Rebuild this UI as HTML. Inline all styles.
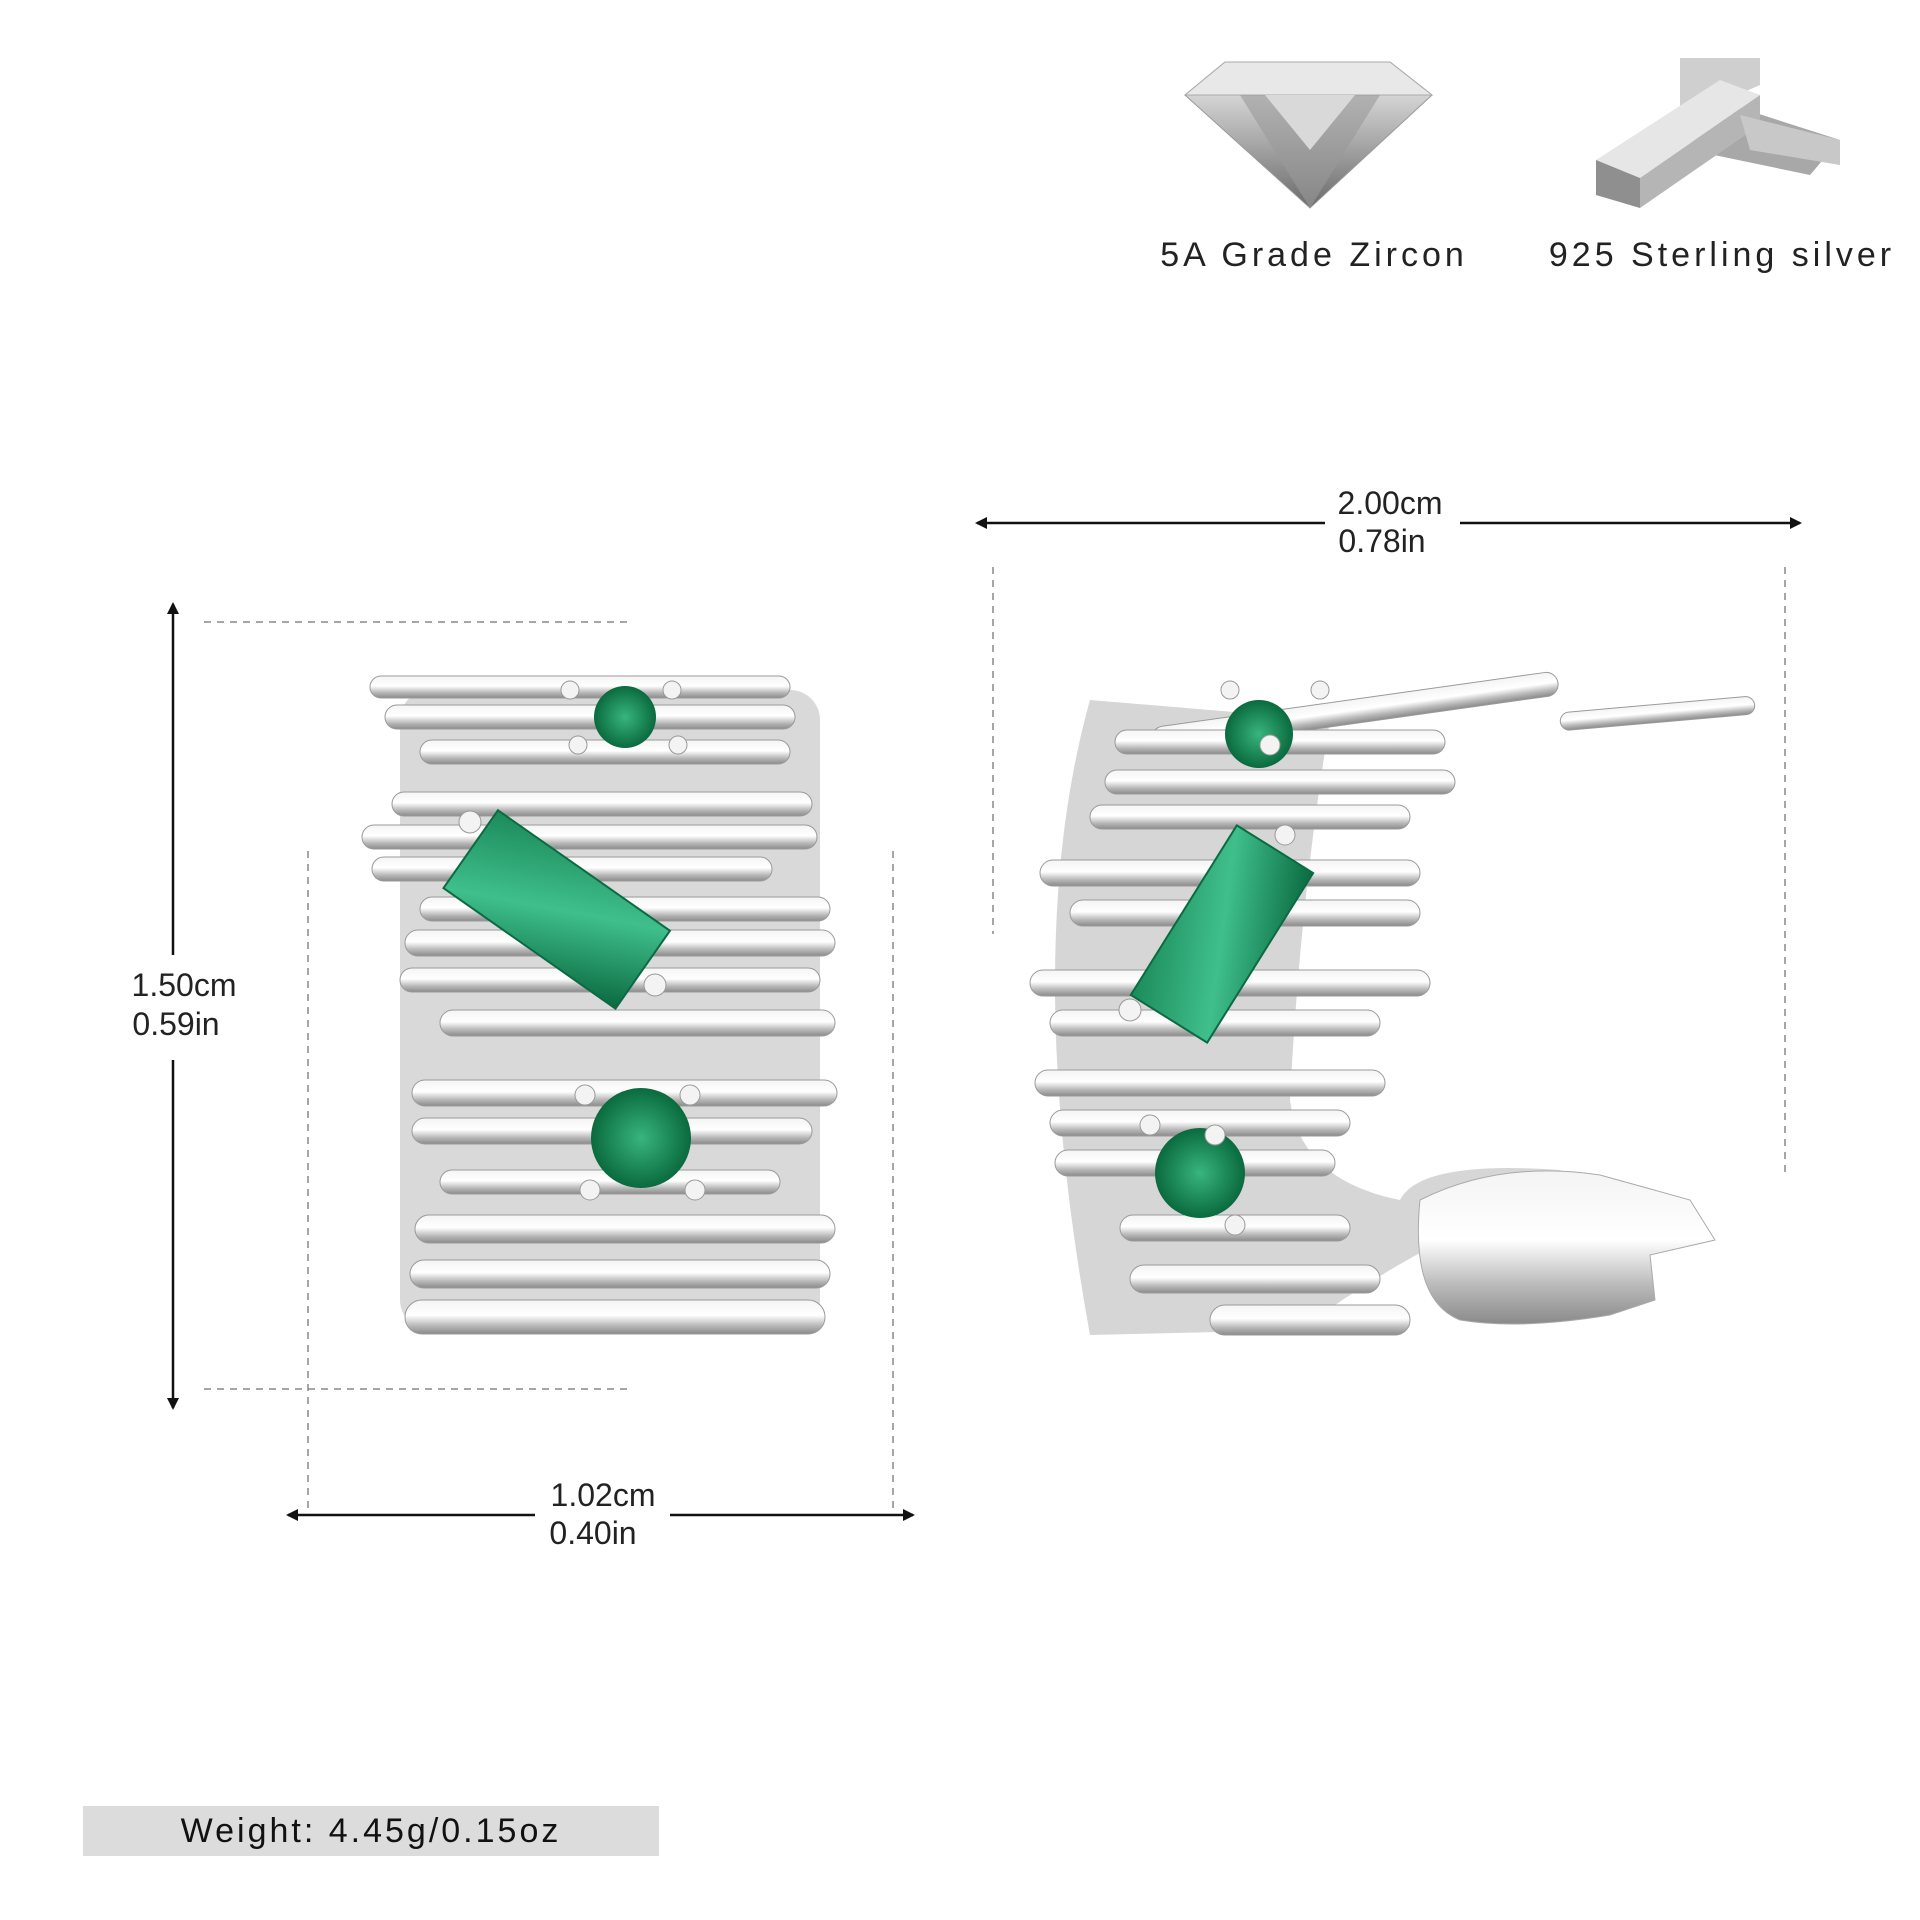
<!DOCTYPE html>
<html><head><meta charset="utf-8"><style>
html,body{margin:0;padding:0;background:#fff;}
body{width:1920px;height:1920px;position:relative;overflow:hidden;font-family:"Liberation Sans",sans-serif;}
</style></head><body>
<svg width="1920" height="1920" viewBox="0 0 1920 1920" xmlns="http://www.w3.org/2000/svg" style="position:absolute;left:0;top:0">
<defs>
<linearGradient id="bar" x1="0" y1="0" x2="0" y2="1">
<stop offset="0" stop-color="#f4f4f4"/><stop offset="0.45" stop-color="#ffffff"/><stop offset="0.75" stop-color="#b9b9b9"/><stop offset="1" stop-color="#8a8a8a"/></linearGradient>
<linearGradient id="gem" x1="0" y1="0" x2="1" y2="1">
<stop offset="0" stop-color="#1c8a5a"/><stop offset="0.5" stop-color="#3fbf8c"/><stop offset="1" stop-color="#0b6a40"/></linearGradient>
<radialGradient id="rg"><stop offset="0" stop-color="#38b57f"/><stop offset="1" stop-color="#0a6a3e"/></radialGradient>
<linearGradient id="dia" x1="0" y1="0" x2="0" y2="1"><stop offset="0" stop-color="#f4f4f4"/><stop offset="1" stop-color="#6a6a6a"/></linearGradient>
<marker id="ah" markerWidth="12" markerHeight="12" refX="10" refY="6" orient="auto-start-reverse" markerUnits="userSpaceOnUse"><path d="M0,0 L12,6 L0,12 Z" fill="#111"/></marker>
</defs>

<polygon points="1185,95 1225,62 1390,62 1432,95 1310,208" fill="url(#dia)" stroke="#999"/>
<polygon points="1185,95 1432,95 1390,62 1225,62" fill="#e8e8e8" stroke="#aaa"/>
<polygon points="1240,95 1310,208 1380,95" fill="#9a9a9a" opacity=".6"/>
<polygon points="1265,95 1310,150 1355,95" fill="#d9d9d9"/>
<polygon points="1680,58 1760,58 1760,85 1680,120" fill="#cfcfcf"/>
<polygon points="1700,95 1840,140 1810,175 1690,150" fill="#a8a8a8"/>
<polygon points="1596,160 1720,80 1760,95 1640,178" fill="#e6e6e6"/>
<polygon points="1596,160 1640,178 1640,208 1596,195" fill="#8f8f8f"/>
<polygon points="1640,178 1760,95 1760,125 1640,208" fill="#b5b5b5"/>
<polygon points="1740,115 1840,140 1840,165 1750,150" fill="#c8c8c8"/>

<text x="1314" y="266" font-size="34" text-anchor="middle" letter-spacing="4" fill="#222">5A Grade Zircon</text>
<text x="1722" y="266" font-size="34" text-anchor="middle" letter-spacing="4" fill="#222">925 Sterling silver</text>

<g stroke="#111" stroke-width="2.5" fill="none">
<line x1="977" y1="523" x2="1325" y2="523" marker-start="url(#ah)"/>
<line x1="1460" y1="523" x2="1800" y2="523" marker-end="url(#ah)"/>
<line x1="173" y1="604" x2="173" y2="955" marker-start="url(#ah)"/>
<line x1="173" y1="1060" x2="173" y2="1408" marker-end="url(#ah)"/>
<line x1="288" y1="1515" x2="535" y2="1515" marker-start="url(#ah)"/>
<line x1="670" y1="1515" x2="913" y2="1515" marker-end="url(#ah)"/>
</g>
<g stroke="#888" stroke-width="1.5" stroke-dasharray="7,6" fill="none">
<line x1="993" y1="567" x2="993" y2="934"/>
<line x1="1785" y1="567" x2="1785" y2="1175"/>
<line x1="204" y1="622" x2="628" y2="622"/>
<line x1="204" y1="1389" x2="628" y2="1389"/>
<line x1="308" y1="851" x2="308" y2="1509"/>
<line x1="893" y1="851" x2="893" y2="1509"/>
</g>
<g font-size="32" fill="#222" text-anchor="middle">
<text x="1390" y="514">2.00cm</text><text x="1382" y="552">0.78in</text>
<text x="184" y="996">1.50cm</text><text x="176" y="1035">0.59in</text>
<text x="603" y="1506">1.02cm</text><text x="593" y="1544">0.40in</text>
</g>

<rect x="400" y="690" width="420" height="640" rx="30" fill="#d9d9d9"/>
<g fill="url(#bar)" stroke="#9a9a9a" stroke-width="1">
<rect x="370" y="676" width="420" height="22" rx="11"/>
<rect x="385" y="705" width="410" height="24" rx="12"/>
<rect x="420" y="740" width="370" height="24" rx="12"/>
<rect x="392" y="792" width="420" height="24" rx="12"/>
<rect x="362" y="825" width="455" height="24" rx="12"/>
<rect x="372" y="857" width="400" height="24" rx="12"/>
<rect x="420" y="897" width="410" height="24" rx="12"/>
<rect x="405" y="930" width="430" height="26" rx="13"/>
<rect x="400" y="968" width="420" height="24" rx="12"/>
<rect x="440" y="1010" width="395" height="26" rx="13"/>
<rect x="412" y="1080" width="425" height="26" rx="13"/>
<rect x="412" y="1118" width="400" height="26" rx="13"/>
<rect x="440" y="1170" width="340" height="24" rx="12"/>
<rect x="415" y="1215" width="420" height="28" rx="14"/>
<rect x="410" y="1260" width="420" height="28" rx="14"/>
<rect x="405" y="1300" width="420" height="34" rx="17"/>
</g>
<circle cx="625" cy="717" r="31" fill="url(#rg)"/>
<rect x="452" y="862" width="210" height="95" fill="url(#gem)" stroke="#0c6a42" stroke-width="2" transform="rotate(35 557 909)"/>
<circle cx="641" cy="1138" r="50" fill="url(#rg)"/>
<g fill="#f3f3f3" stroke="#999">
<circle cx="570" cy="690" r="9"/><circle cx="672" cy="690" r="9"/><circle cx="578" cy="745" r="9"/><circle cx="678" cy="745" r="9"/>
<circle cx="470" cy="822" r="11"/><circle cx="655" cy="985" r="11"/>
<circle cx="585" cy="1095" r="10"/><circle cx="690" cy="1095" r="10"/><circle cx="590" cy="1190" r="10"/><circle cx="695" cy="1190" r="10"/>
</g>

<path d="M1090,700 Q1020,950 1090,1335 L1300,1330 Q1420,1240 1580,1180 L1560,1170 Q1420,1160 1400,1200 Q1300,1180 1290,1100 Q1300,900 1330,720 Z" fill="#d6d6d6"/>
<g fill="url(#bar)" stroke="#9a9a9a" stroke-width="1">
<rect x="1150" y="700" width="410" height="24" rx="12" transform="rotate(-8 1350 712)"/>
<rect x="1115" y="730" width="330" height="24" rx="12"/>
<rect x="1105" y="770" width="350" height="24" rx="12"/>
<rect x="1090" y="805" width="320" height="24" rx="12"/>
<rect x="1040" y="860" width="380" height="26" rx="13"/>
<rect x="1070" y="900" width="350" height="26" rx="13"/>
<rect x="1030" y="970" width="400" height="26" rx="13"/>
<rect x="1050" y="1010" width="330" height="26" rx="13"/>
<rect x="1035" y="1070" width="350" height="26" rx="13"/>
<rect x="1050" y="1110" width="300" height="26" rx="13"/>
<rect x="1055" y="1150" width="280" height="26" rx="13"/>
<rect x="1120" y="1215" width="230" height="26" rx="13"/>
<rect x="1130" y="1265" width="250" height="28" rx="14"/>
<rect x="1210" y="1305" width="200" height="30" rx="15"/>
<rect x="1560" y="705" width="195" height="18" rx="9" transform="rotate(-5 1650 714)"/>
</g>
<path d="M1420,1200 Q1500,1160 1600,1175 L1690,1200 L1715,1240 L1650,1255 L1655,1300 L1610,1315 Q1520,1330 1460,1320 Q1410,1300 1420,1200 Z" fill="url(#bar)" stroke="#aaa"/>
<circle cx="1259" cy="734" r="34" fill="url(#rg)"/>
<rect x="1122" y="889" width="200" height="90" fill="url(#gem)" stroke="#0c6a42" stroke-width="2" transform="rotate(-58 1222 934)"/>
<circle cx="1200" cy="1173" r="45" fill="url(#rg)"/>
<g fill="#f3f3f3" stroke="#999">
<circle cx="1230" cy="690" r="9"/><circle cx="1320" cy="690" r="9"/><circle cx="1270" cy="745" r="10"/>
<circle cx="1285" cy="835" r="10"/><circle cx="1130" cy="1010" r="11"/>
<circle cx="1150" cy="1125" r="10"/><circle cx="1215" cy="1135" r="10"/><circle cx="1235" cy="1225" r="10"/>
</g>

<rect x="83" y="1806" width="576" height="50" fill="#dcdcdc"/>
<text x="371" y="1842" font-size="34" text-anchor="middle" letter-spacing="3" fill="#111">Weight:  4.45g/0.15oz</text>
</svg>
</body></html>
